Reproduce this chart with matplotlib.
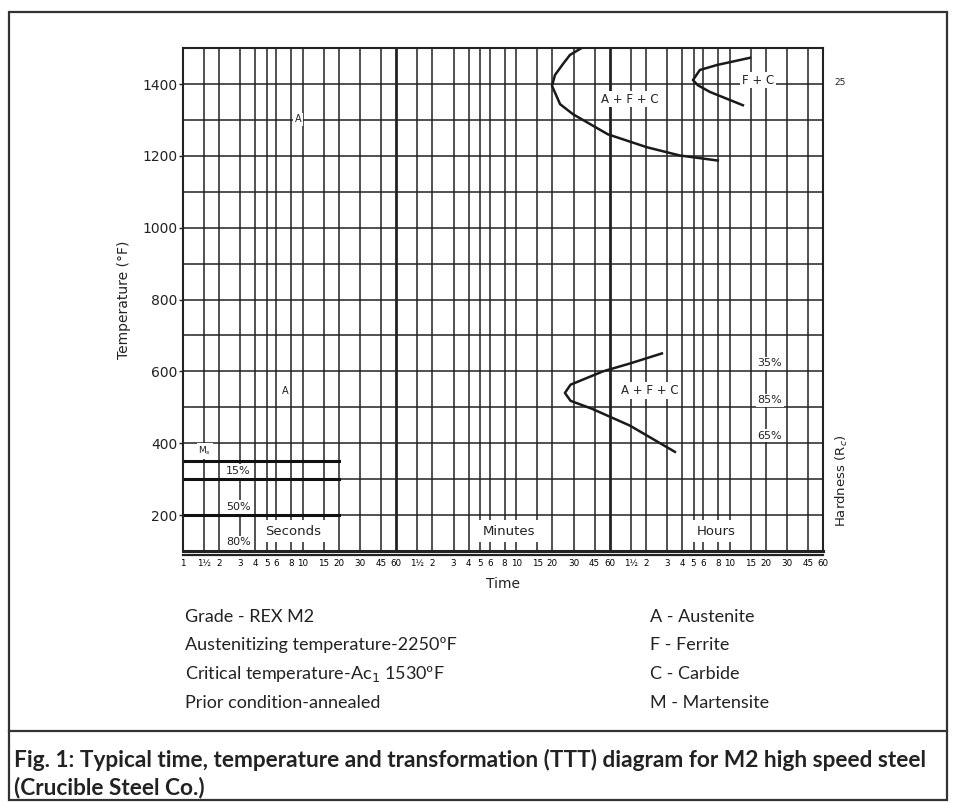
import numpy as np
import matplotlib.pyplot as plt
from matplotlib.patches import Rectangle

plt.rcParams['font.family'] = ['DejaVu Sans']

# time axis (seconds, log) -- one cycle of marks per unit
base_ticks = [1, 1.5, 2, 3, 4, 5, 6, 8, 10, 15, 20, 30, 45, 60]
base_labels = ['1', '1½', '2', '3', '4', '5', '6', '8', '10', '15', '20', '30', '45', '60']
unit_seconds = [1, 60, 3600]          # seconds, minutes, hours
unit_names = ['Seconds', 'Minutes', 'Hours']
unit_label_x = [8.3, 521, 27700]

temp_labels = [200, 400, 600, 800, 1000, 1200, 1400]
temp_grid = [100, 200, 300, 400, 500, 600, 700, 800, 900, 1000, 1100, 1200, 1300, 1400, 1500]

# transformation curves (time s, temperature F)
upper_afc_t = [2350, 1680, 1470, 1260, 1190, 1390, 1780, 3480, 7360, 13860, 28700]
upper_afc_T = [1510, 1481, 1456, 1425, 1395, 1344, 1316, 1260, 1224, 1201, 1187]
fc_t = [53100, 28200, 20300, 17800, 19500, 24650, 46400]
fc_T = [1473, 1453, 1439, 1411, 1397, 1378, 1341]
lower_afc_t = [9810, 5310, 3160, 1700, 1525, 1700, 2560, 5310, 12590]
lower_afc_T = [650, 622, 600, 563, 540, 518, 496, 449, 376]

# martensite lines
ms_temps = [350, 300, 200]
ms_end = 20
pct_labels = ['15%', '50%', '80%']
pct_temps = [323, 222, 124]

hard_labels = ['35%', '85%', '65%']
hard_temps = [622, 519, 421]

# build tick lists
tick_pos, tick_lab = [], []
for i, u in enumerate(unit_seconds):
    vals = base_ticks if i == 0 else base_ticks[1:]
    labs = base_labels if i == 0 else base_labels[1:]
    tick_pos += [v * u for v in vals]
    tick_lab += labs

fig = plt.figure(figsize=(9.56, 8.02), dpi=100)
ax = fig.add_axes([0.1914, 0.313, 0.6695, 0.627])
ax.set_xscale('log')
ax.set_xlim(1, 60 * 3600)
ax.set_ylim(100, 1500)

gc = '#222222'
for x in tick_pos:
    lw = 2.0 if x in (60, 3600) else 1.1
    ax.axvline(x, color=gc, lw=lw, zorder=1)
for y in temp_grid:
    ax.axhline(y, color=gc, lw=1.1, zorder=1)

ax.set_xticks(tick_pos)
ax.set_xticklabels(tick_lab, fontsize=6.3)
ax.xaxis.set_minor_locator(plt.NullLocator())
ax.tick_params(axis='x', length=0, pad=6)
ax.set_yticks(temp_labels)
ax.set_yticklabels([str(v) for v in temp_labels], fontsize=10, color='#222')
ax.tick_params(axis='y', length=3, width=1, color=gc, pad=1)
for s in ax.spines.values():
    s.set_linewidth(1.5)
    s.set_color(gc)
ax.spines['bottom'].set_linewidth(2.2)
ax.plot([0, 1], [-0.009, -0.009], transform=ax.transAxes, clip_on=False,
        color=gc, lw=1.6)

ax.set_ylabel('Temperature (°F)', fontsize=10, labelpad=8, color='#222')
ax.set_xlabel('Time', fontsize=10, labelpad=6, color='#222')

# curves
for t, T in [(upper_afc_t, upper_afc_T), (fc_t, fc_T), (lower_afc_t, lower_afc_T)]:
    ax.plot(t, T, color='#1a1a1a', lw=1.8, zorder=4)

# martensite lines
for T in ms_temps:
    ax.plot([1, ms_end], [T, T], color='#111', lw=2.2, zorder=2)

box = dict(facecolor='white', edgecolor='none', pad=1.2)
txt = dict(fontsize=8.5, color='#222', ha='center', va='center', bbox=box, zorder=5)
ax.text(1.52, 378, 'M$_s$', **dict(txt, fontsize=6.5))
for lab, T in zip(pct_labels, pct_temps):
    ax.text(2.9, T, lab, **dict(txt, fontsize=8))
for lab, T in zip(hard_labels, hard_temps):
    ax.text(78000, T, lab, **dict(txt, fontsize=8))

ax.text(9.1, 1302, 'A', **dict(txt, fontsize=7))
ax.text(7.1, 544, 'A', **dict(txt, fontsize=7))
ax.text(5300, 1358, 'A + F + C', **txt)
ax.text(62000, 1411, 'F + C', **txt)
ax.text(7800, 547, 'A + F + C', **txt)

for name, x in zip(unit_names, unit_label_x):
    ax.text(x, 155, name, **dict(txt, fontsize=9.5,
                                  bbox=dict(facecolor='white', edgecolor='none', pad=3)))

ax.text(1.018, (1405 - 100) / 1400, '25', transform=ax.transAxes, fontsize=6.5,
        color='#222', ha='left', va='center')
ax.text(1.03, 0.14, 'Hardness (R$_c$)', transform=ax.transAxes, fontsize=9.5,
        color='#222', rotation=90, ha='center', va='center')

# notes under the chart
left_notes = ['Grade - REX M2', 'Austenitizing temperature-2250ºF',
              'Critical temperature-Ac$_1$ 1530ºF', 'Prior condition-annealed']
right_notes = ['A - Austenite', 'F - Ferrite', 'C - Carbide', 'M - Martensite']
note_y = [617, 645, 674, 703]
for l, r, y in zip(left_notes, right_notes, note_y):
    fig.text(185 / 956, 1 - y / 802, l, fontsize=13, family=['Lato', 'DejaVu Sans'],
             color='#222', va='center', ha='left')
    fig.text(650 / 956, 1 - y / 802, r, fontsize=13, family=['Lato', 'DejaVu Sans'],
             color='#222', va='center', ha='left')

fig.text(14 / 956, 1 - 760 / 802,
         'Fig. 1: Typical time, temperature and transformation (TTT) diagram for M2 high speed steel',
         fontsize=16.3, fontweight='bold', family=['Lato', 'DejaVu Sans'], color='#222',
         va='center', ha='left')
fig.text(14 / 956, 1 - 787 / 802, '(Crucible Steel Co.)',
         fontsize=16.3, fontweight='bold', family=['Lato', 'DejaVu Sans'], color='#222',
         va='center', ha='left')

# frame and separator
fig.patches.append(Rectangle((9 / 956, 0.002), 938 / 956, 1 - 12 / 802 - 0.002,
                             transform=fig.transFigure, fill=False, lw=1.6, ec='#333'))
fig.lines.append(plt.Line2D([9 / 956, 947 / 956], [1 - 731 / 802] * 2,
                            transform=fig.transFigure, lw=1.6, color='#333'))

fig.savefig('out.png', dpi=100)
